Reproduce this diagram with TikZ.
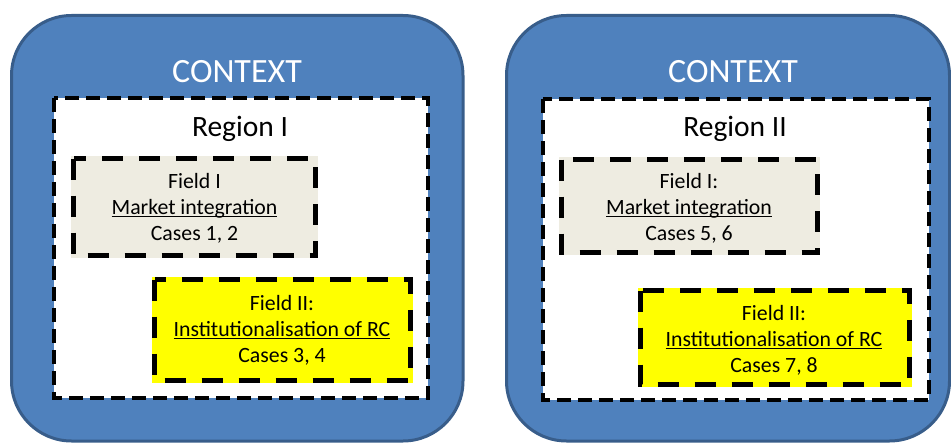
\documentclass[tikz,border=0pt]{standalone}
\usepackage{fontspec}
\setmainfont{Carlito}
\definecolor{ctxfill}{HTML}{4F81BD}
\definecolor{ctxline}{HTML}{385D8A}
\definecolor{tanfill}{HTML}{EEECE1}
\definecolor{fieldyellow}{HTML}{FFFF00}
% underline that sits just under the baseline
\newcommand{\fieldul}[1]{{\setbox0\hbox{#1}\rlap{\rule[-2.8pt]{\wd0}{1.4pt}}\box0}}
\tikzset{
  contextbox/.style={fill=ctxfill, draw=ctxline, line width=3pt, rounded corners=60pt},
  regionbox/.style={fill=white, draw=black, line width=4pt, dash pattern=on 14pt off 7pt},
  fieldbox/.style={draw=black, line width=5pt, dash pattern=on 21pt off 16pt},
  contexttitle/.style={text=white, font=\fontsize{34}{40}\selectfont},
  regiontitle/.style={font=\fontsize{29.5}{35}\selectfont},
  fieldtext/.style={align=center, font=\fontsize{21.8}{26}\selectfont, inner sep=0pt}
}
\begin{document}
\begin{tikzpicture}[x=1pt, y=-1pt]
\useasboundingbox (0,0) rectangle (951,444);

% left panel
\draw[contextbox] (11.5,15.5) rectangle (463,441);
\node[contexttitle] (ctxA) at (237,72) {CONTEXT};
\draw[regionbox] (54,98) rectangle (428,398);
\node[regiontitle] (regA) at (240,129) {Region I};
\fill[tanfill] (71,156) rectangle (318,258);
\draw[fieldbox] (73.5,158.5) rectangle (315.5,255.5);
\node[fieldtext] (fieldAa) at (194.5,208) {Field I\\\fieldul{Market integration}\\Cases 1, 2};
\fill[fieldyellow] (152,277) rectangle (413,383);
\draw[fieldbox] (154.5,279.5) rectangle (410.5,380.5);
\node[fieldtext] (fieldAb) at (282,330) {Field II:\\\fieldul{Institutionalisation of RC}\\Cases 3, 4};

% right panel
\draw[contextbox] (506.5,15.5) rectangle (949.5,441);
\node[contexttitle] (ctxB) at (733,72) {CONTEXT};
\draw[regionbox] (543,99) rectangle (929,400);
\node[regiontitle] (regB) at (735,129) {Region II};
\fill[tanfill] (559,157) rectangle (820,255);
\draw[fieldbox] (561.5,159.5) rectangle (817.5,252.5);
\node[fieldtext] (fieldBa) at (689,208) {Field I:\\\fieldul{Market integration}\\Cases 5, 6};
\fill[fieldyellow] (638,288) rectangle (912,387);
\draw[fieldbox] (640.5,290.5) rectangle (909.5,384.5);
\node[fieldtext] (fieldBb) at (774,340) {Field II:\\\fieldul{Institutionalisation of RC}\\Cases 7, 8};
\end{tikzpicture}
\end{document}
